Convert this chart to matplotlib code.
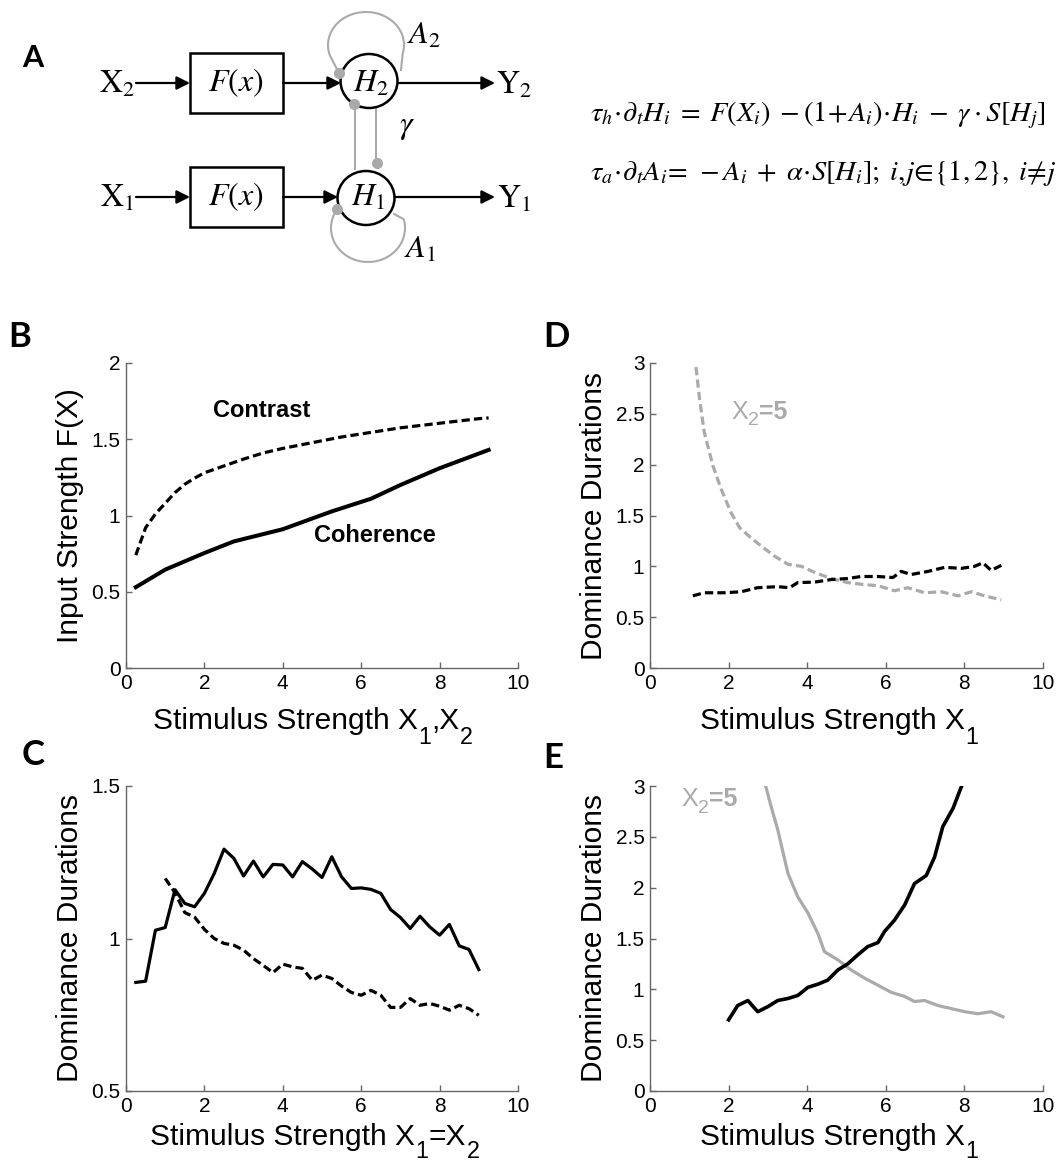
import numpy as np
import matplotlib
matplotlib.use("Agg")
import matplotlib.pyplot as plt
from matplotlib.patches import Rectangle, Ellipse

plt.rcParams['font.family'] = 'Liberation Sans'

################################################################################
# data

# B: input strength F(X)
b_x_contrast = [0.25, 0.5, 0.75, 1.0, 1.25, 1.5, 1.75, 2.0, 2.5, 3.0, 3.5, 4.0, 4.5,
                5.0, 5.5, 6.0, 6.5, 7.0, 7.5, 8.0, 8.5, 9.0, 9.25]
b_contrast = [0.74, 0.92, 1.01, 1.08, 1.15, 1.205, 1.245, 1.28, 1.325, 1.37, 1.41,
              1.44, 1.465, 1.49, 1.515, 1.535, 1.555, 1.575, 1.59, 1.605, 1.62, 1.635, 1.64]
b_x_coherence = [0.25, 1.0, 2.0, 2.75, 4.0, 5.25, 6.25, 7.0, 8.0, 9.25]
b_coherence = [0.53, 0.645, 0.754, 0.83, 0.91, 1.027, 1.11, 1.20, 1.31, 1.43]

# C: dominance durations, X1 = X2
c_x_solid = [0.25, 0.5, 0.75, 1.0, 1.25, 1.5, 1.75, 2.0, 2.25, 2.5, 2.75, 3.0, 3.25,
             3.5, 3.75, 4.0, 4.25, 4.5, 4.75, 5.0, 5.25, 5.5, 5.75, 6.0, 6.25, 6.5,
             6.75, 7.0, 7.25, 7.5, 7.75, 8.0, 8.25, 8.5, 8.75, 9.0]
c_solid = [0.856, 0.86, 1.027, 1.036, 1.16, 1.115, 1.104, 1.148, 1.213, 1.293, 1.263,
           1.205, 1.254, 1.202, 1.243, 1.241, 1.202, 1.252, 1.228, 1.200, 1.268, 1.202,
           1.164, 1.166, 1.161, 1.148, 1.095, 1.069, 1.033, 1.073, 1.038, 1.011, 1.046,
           0.976, 0.964, 0.898]
c_x_dash = [1.0, 1.25, 1.5, 1.75, 2.0, 2.25, 2.5, 2.75, 3.0, 3.25, 3.5, 3.75, 4.0,
            4.25, 4.5, 4.75, 5.0, 5.25, 5.5, 5.75, 6.0, 6.25, 6.5, 6.75, 7.0, 7.25,
            7.5, 7.75, 8.0, 8.25, 8.5, 8.75, 9.0]
c_dash = [1.197, 1.15, 1.085, 1.07, 1.03, 1.0, 0.984, 0.978, 0.962, 0.934, 0.912,
          0.888, 0.916, 0.907, 0.902, 0.863, 0.880, 0.869, 0.844, 0.823, 0.814, 0.830,
          0.814, 0.774, 0.774, 0.803, 0.781, 0.787, 0.778, 0.765, 0.781, 0.770, 0.748]

# D: dominance durations vs X1 (contrast), X2 = 5
d_x_grey = [1.17, 1.26, 1.38, 1.6, 1.81, 2.06, 2.28, 2.57, 2.83, 3.17, 3.51, 3.85,
            4.19, 4.61, 5.03, 5.46, 5.8, 6.22, 6.56, 6.99, 7.41, 7.84, 8.18, 8.51, 8.94]
d_grey = [2.96, 2.65, 2.32, 1.99, 1.76, 1.53, 1.38, 1.28, 1.2, 1.1, 1.02, 1.0, 0.94,
          0.88, 0.84, 0.82, 0.81, 0.76, 0.79, 0.74, 0.75, 0.71, 0.75, 0.71, 0.67]
d_x_black = [1.09, 1.38, 1.89, 2.32, 2.74, 3.25, 3.55, 3.76, 4.19, 4.61, 5.03, 5.37,
             5.8, 6.18, 6.39, 6.65, 7.07, 7.5, 7.92, 8.26, 8.47, 8.68, 8.94]
d_black = [0.71, 0.74, 0.74, 0.75, 0.79, 0.80, 0.79, 0.84, 0.845, 0.87, 0.88, 0.90,
           0.90, 0.89, 0.95, 0.92, 0.95, 0.99, 0.98, 1.00, 1.035, 0.96, 1.01]

# E: dominance durations vs X1 (coherence), X2 = 5
e_x_grey = [2.95, 3.08, 3.25, 3.51, 3.76, 4.02, 4.27, 4.44, 4.78, 5.12, 5.46, 5.8,
            6.14, 6.48, 6.73, 6.99, 7.33, 7.67, 8.01, 8.34, 8.68, 8.98]
e_grey = [2.99, 2.8, 2.57, 2.14, 1.91, 1.75, 1.55, 1.37, 1.29, 1.19, 1.11, 1.04,
          0.97, 0.93, 0.88, 0.89, 0.84, 0.81, 0.78, 0.76, 0.78, 0.73]
e_x_black = [2.0, 2.23, 2.49, 2.74, 3.0, 3.25, 3.51, 3.76, 4.02, 4.27, 4.52, 4.78,
             5.03, 5.29, 5.54, 5.8, 5.97, 6.22, 6.48, 6.73, 7.03, 7.24, 7.45, 7.71, 7.92]
e_black = [0.70, 0.84, 0.89, 0.78, 0.83, 0.89, 0.91, 0.94, 1.02, 1.05, 1.09, 1.19,
           1.25, 1.34, 1.42, 1.46, 1.57, 1.68, 1.83, 2.04, 2.12, 2.30, 2.60, 2.78, 2.99]

x_ticks = [0, 2, 4, 6, 8, 10]
################################################################################

W, H = 1062, 1165
GREY = '#aaaaaa'
LW = 2.3
DASH = (0, (2.6, 1.3))
LABEL_FS = 21.5

fig = plt.figure(figsize=(W / 100, H / 100), dpi=100)

# background axes in pixel coordinates, for panel A, letters and x labels
ax0 = fig.add_axes([0, 0, 1, 1])
ax0.set_xlim(0, W)
ax0.set_ylim(H, 0)
ax0.axis('off')

for letter, lx, ly, fs in [('A', 33, 58, 22), ('B', 20, 337, 25), ('C', 33, 755, 25),
                           ('D', 556, 337, 25), ('E', 553, 758, 25)]:
    ax0.text(lx, ly, letter, fontsize=fs, fontweight='bold', family='Lato',
             ha='center', va='center')


def chain_text(ax, x, y, parts, fs, sub_drop=10, **kw):
    # text pieces side by side; 's' pieces are lowered, smaller subscripts
    base = ax.text(x, y, parts[0][0], fontsize=fs, va='baseline', ha='left',
                   fontweight='bold' if parts[0][1] == 'b' else 'normal', **kw)
    prev = base
    for s, kind in parts[1:]:
        if kind == 's':
            prev = ax.annotate(s, xy=(1, 0), xycoords=(prev, base), xytext=(0.5, -sub_drop),
                               textcoords='offset points', va='bottom', ha='left',
                               fontsize=fs * 0.78, **kw)
        else:
            prev = ax.annotate(s, xy=(1, 0), xycoords=(prev, base), xytext=(0, 0),
                               textcoords='offset points', va='bottom', ha='left',
                               fontsize=fs, fontweight='bold' if kind == 'b' else 'normal',
                               **kw)
    return base


def arrow(x0, x1, y):
    ax0.annotate('', xy=(x1, y), xytext=(x0, y),
                 arrowprops=dict(arrowstyle='-|>', color='k', lw=1.6,
                                 mutation_scale=20, shrinkA=0, shrinkB=0))


serif = dict(math_fontfamily='stix', family='Liberation Serif', fontsize=23,
             va='center')

for row_y, sub, hc in [(83, '2', (369, 81)), (197, '1', (366, 198))]:
    ax0.text(117, row_y + 2, r'$\mathrm{X}_{%s}$' % sub, ha='center', **serif)
    arrow(136, 190, row_y)
    ax0.add_patch(Rectangle((190, row_y - 30), 93, 60, fill=False, lw=1.8, ec='k'))
    ax0.text(236, row_y, r'$F(x)$', ha='center', **serif)
    arrow(283, hc[0] - 28, row_y)
    ax0.add_patch(Ellipse(hc, 57, 54, fill=False, lw=1.8, ec='k', zorder=3))
    ax0.text(hc[0] + 2, row_y + 1, r'$H_{%s}$' % sub, ha='center', **serif)
    arrow(hc[0] + 29, 495, row_y)
    ax0.text(514, row_y + 3, r'$\mathrm{Y}_{%s}$' % sub, ha='center', **serif)

# adaptation loops
t = np.radians(np.linspace(200, -15, 60))
ax0.plot(np.r_[339, 366 + 38 * np.cos(t), 401], np.r_[73, 45 - 33 * np.sin(t), 70],
         color=GREY, lw=1.5, zorder=2)
t = np.radians(np.linspace(160, 375, 60))
ax0.plot(np.r_[337, 368 + 37 * np.cos(t), 394], np.r_[209, 228 - 34 * np.sin(t), 214],
         color=GREY, lw=1.5, zorder=2)
# mutual inhibition
ax0.plot([355, 355], [104, 169], color=GREY, lw=1.5, zorder=2)
ax0.plot([376, 376], [108, 163], color=GREY, lw=1.5, zorder=2)
ax0.plot([339, 354, 377, 337], [73, 104, 163, 209], 'o', color=GREY, ms=8,
         mec='none', zorder=4)
ax0.text(424, 36, r'$A_2$', ha='center', **serif)
ax0.text(420, 250, r'$A_1$', ha='center', **serif)
ax0.text(407, 128, r'$\gamma$', ha='center', **serif)

# model equations
eq = dict(serif, fontsize=20.5)
ax0.text(590, 115, r'$\tau_h\!\cdot\!\partial_t H_i\; =\; F(X_i)\; -(\mathit{1}\!+\!A_i)\!\cdot\! H_i\;'
         r' -\; \gamma\cdot S[H_j]$', ha='left', **eq)
ax0.text(590, 173, r'$\tau_a\!\cdot\!\partial_t A_i\!=\, -A_i\;+\;\alpha\!\cdot\! S[H_i];\;'
         r' i,\!j\!\in\!\{\mathit{1,2}\},\; i\!\neq\! j$', ha='left', **eq)


def style_axes(ax, ylim, yticks, ylabel):
    ax.set_xlim(0, 10)
    ax.set_ylim(*ylim)
    ax.set_xticks(x_ticks)
    ax.set_yticks(yticks)
    ax.set_yticklabels([('%g' % v) for v in yticks])
    for side in ['top', 'right']:
        ax.spines[side].set_visible(False)
    for side in ['left', 'bottom']:
        ax.spines[side].set_color('#666666')
        ax.spines[side].set_linewidth(1.0)
    ax.tick_params(direction='in', length=4, width=1, color='#666666',
                   labelsize=15, pad=4)
    ax.set_ylabel(ylabel, fontsize=LABEL_FS)
    ax.yaxis.set_label_coords(-0.108, 0.5)


axB = fig.add_axes([126 / W, 1 - 668 / H, 392 / W, 305 / H])
axD = fig.add_axes([650 / W, 1 - 668 / H, 393 / W, 305 / H])
axC = fig.add_axes([126 / W, 1 - 1091 / H, 392 / W, 305 / H])
axE = fig.add_axes([650 / W, 1 - 1091 / H, 393 / W, 305 / H])

# B
axB.plot(b_x_contrast, b_contrast, color='k', lw=LW, ls=DASH)
axB.plot(b_x_coherence, b_coherence, color='k', lw=LW + 0.6)
axB.text(3.45, 1.69, 'Contrast', fontsize=17, fontweight='bold', ha='center', va='center')
axB.text(6.35, 0.87, 'Coherence', fontsize=17, fontweight='bold', ha='center', va='center')
style_axes(axB, (0, 2), [0, 0.5, 1, 1.5, 2], 'Input Strength F(X)')
chain_text(ax0, 153, 729, [('Stimulus Strength X', 'n'), ('1', 's'), (',X', 'n'), ('2', 's')],
           LABEL_FS)

# C
axC.plot(c_x_solid, c_solid, color='k', lw=LW)
axC.plot(c_x_dash, c_dash, color='k', lw=LW, ls=DASH)
style_axes(axC, (0.5, 1.5), [0.5, 1, 1.5], 'Dominance Durations')
chain_text(ax0, 150, 1145, [('Stimulus Strength X', 'n'), ('1', 's'), ('=X', 'n'), ('2', 's')],
           LABEL_FS, sub_drop=9)

# D
axD.plot(d_x_grey, d_grey, color=GREY, lw=LW, ls=DASH)
axD.plot(d_x_black, d_black, color='k', lw=LW, ls=DASH)
chain_text(axD, 2.06, 2.45, [('X', 'n'), ('2', 's'), ('=5', 'b')], 18, sub_drop=4, color=GREY)
style_axes(axD, (0, 3), [0, 0.5, 1, 1.5, 2, 2.5, 3], 'Dominance Durations')
chain_text(ax0, 700, 729, [('Stimulus Strength X', 'n'), ('1', 's')], LABEL_FS)

# E
axE.plot(e_x_grey, e_grey, color=GREY, lw=LW)
axE.plot(e_x_black, e_black, color='k', lw=LW + 0.3)
chain_text(axE, 0.79, 2.8, [('X', 'n'), ('2', 's'), ('=5', 'b')], 18, sub_drop=4, color=GREY)
style_axes(axE, (0, 3), [0, 0.5, 1, 1.5, 2, 2.5, 3], 'Dominance Durations')
chain_text(ax0, 700, 1145, [('Stimulus Strength X', 'n'), ('1', 's')], LABEL_FS, sub_drop=9)

plt.savefig('out.png', dpi=100)
